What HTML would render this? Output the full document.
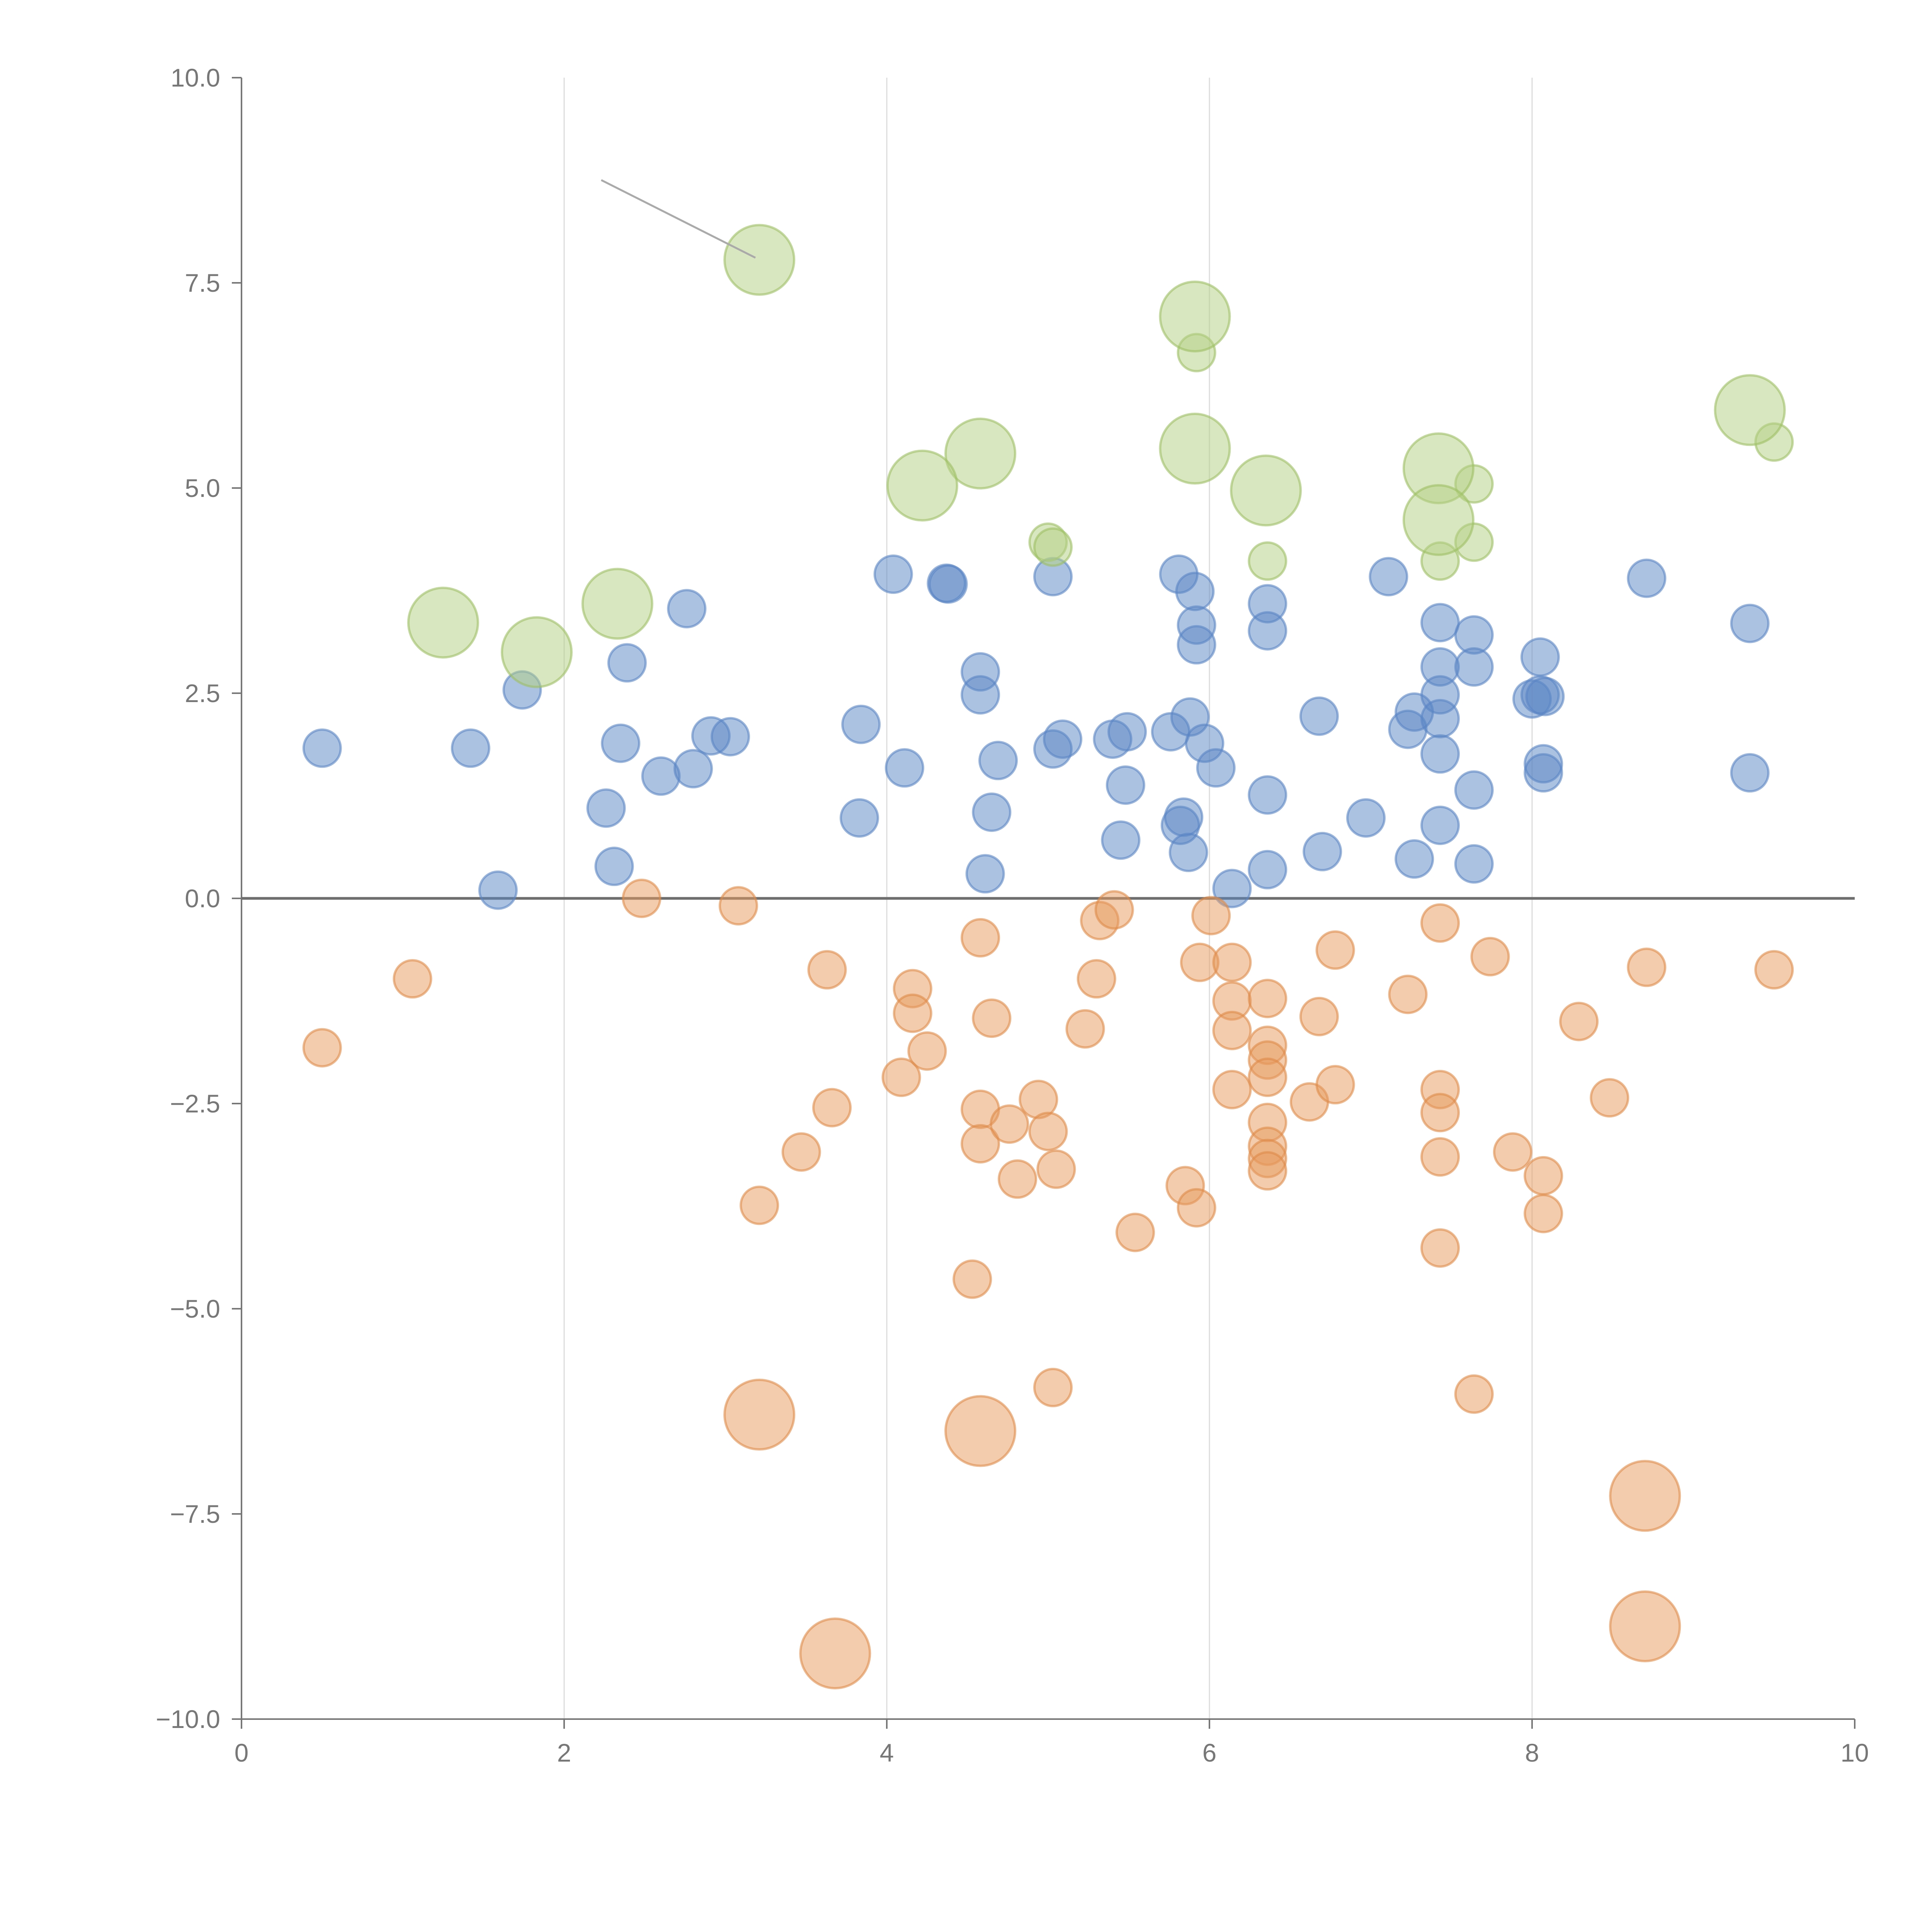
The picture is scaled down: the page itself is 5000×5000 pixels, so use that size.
<!DOCTYPE html>
<html><head><meta charset="utf-8"><style>
html,body{margin:0;padding:0;background:#fff;}
svg{display:block;font-family:"Liberation Sans",Arial,sans-serif;}
</style></head><body>
<svg id="chart" width="5000" height="5000" viewBox="0 0 5000 5000" xmlns="http://www.w3.org/2000/svg">
<rect width="5000" height="5000" fill="#fff"/>
<g id="grid"></g>
<g id="axes"></g>
<g id="marks"></g>
</svg>
<script>
const blueX=[0.5,1.42,1.59,1.74,2.26,2.31,2.35,2.39,2.6,2.76,2.8,2.91,3.03,3.83,3.84,4.04,4.11,4.37,4.38,4.58,4.58,4.61,4.65,4.69,5.03,5.03,5.09,5.4,5.45,5.48,5.49,5.76,5.81,5.82,5.84,5.87,5.88,5.91,5.92,5.92,5.97,6.04,6.14,6.36,6.36,6.36,6.36,6.68,6.7,6.97,7.11,7.23,7.27,7.27,7.43,7.43,7.43,7.43,7.43,7.43,7.64,7.64,7.64,7.64,8.0,8.05,8.05,8.08,8.07,8.07,8.71,9.35,9.35];
const blueY=[1.83,1.83,0.1,2.54,1.1,0.39,1.89,2.87,1.49,3.53,1.58,1.98,1.97,0.98,2.12,3.95,1.59,3.84,3.83,2.76,2.48,0.3,1.05,1.68,3.92,1.82,1.94,1.94,0.71,1.38,2.03,2.03,3.95,0.89,0.99,0.56,2.21,3.74,3.33,3.09,1.89,1.59,0.12,3.59,3.26,1.26,0.35,2.22,0.57,0.98,3.92,2.06,2.27,0.48,3.36,2.82,2.48,2.19,1.76,0.89,3.21,2.82,1.32,0.42,2.43,2.94,2.48,2.46,1.64,1.53,3.9,3.35,1.53];
const orangeX=[0.5,1.06,2.48,3.08,3.21,3.47,3.63,3.66,4.09,4.16,4.16,4.25,4.53,4.58,4.58,4.58,4.65,4.76,4.81,4.94,5.0,5.05,5.03,5.23,5.3,5.32,5.41,5.54,5.85,5.92,5.94,6.01,6.14,6.14,6.14,6.14,6.36,6.36,6.36,6.36,6.36,6.36,6.36,6.36,6.62,6.68,6.78,6.78,7.23,7.43,7.43,7.43,7.43,7.43,7.64,7.74,7.88,8.07,8.07,8.29,8.48,8.71,9.5];
const orangeY=[-1.82,-0.98,0,-0.09,-3.74,-3.09,-0.87,-2.55,-2.18,-1.1,-1.4,-1.86,-4.64,-0.48,-2.57,-2.99,-1.46,-2.75,-3.42,-2.45,-2.84,-3.3,-5.96,-1.59,-0.98,-0.27,-0.14,-4.07,-3.5,-3.77,-0.78,-0.21,-0.78,-1.25,-1.61,-2.33,-1.22,-1.79,-1.97,-2.18,-2.73,-3.02,-3.17,-3.32,-2.48,-1.44,-2.27,-0.63,-1.17,-0.3,-2.33,-2.61,-3.15,-4.26,-6.04,-0.71,-3.09,-3.38,-3.84,-1.5,-2.43,-0.84,-0.87];
const orangeBigX=[3.21,3.68,4.58,8.7,8.7];
const orangeBigY=[-6.29,-9.2,-6.49,-7.28,-8.87];
const greenBigX=[3.21,5.91,5.91,4.58,4.22,6.35,7.42,7.42,9.35,1.25,1.83,2.33];
const greenBigY=[7.78,7.09,5.48,5.42,5.03,4.97,5.24,4.61,5.95,3.36,3.0,3.59];
const greenX=[5.92,5.0,5.03,6.36,7.64,7.64,7.43,9.5];
const greenY=[6.65,4.34,4.28,4.11,5.05,4.34,4.11,5.56];
const xTicks=[0,2,4,6,8,10];
const yTicks=[-10,-7.5,-5,-2.5,0,2.5,5,7.5,10];

const NS="http://www.w3.org/2000/svg";
const X0=625,X1=4800,YT=201,YB=4449;
const xs=v=>X0+(v-0)/10*(X1-X0);
const ys=v=>YB-(v+10)/20*(YB-YT);
function mk(tag,attrs,parent){const e=document.createElementNS(NS,tag);for(const k in attrs)e.setAttribute(k,attrs[k]);parent.appendChild(e);return e;}
const grid=document.getElementById('grid'),axes=document.getElementById('axes'),marks=document.getElementById('marks');

xTicks.forEach(t=>{
  if(t>0&&t<10){const l=mk('line',{x1:xs(t),x2:xs(t),y1:YT,y2:YB,stroke:'#dcdcdc','stroke-width':3},grid);
  
  }
  const tk=mk('line',{x1:xs(t),x2:xs(t),y1:YB,y2:YB+25,stroke:'#777','stroke-width':4},axes);
  
  
  const tx=mk('text',{x:xs(t),y:YB+110,'text-anchor':'middle','font-size':66,fill:'#777'},axes);
  tx.textContent=String(t);
  
  
});
yTicks.forEach(t=>{
  const tk=mk('line',{x1:X0-25,x2:X0,y1:ys(t),y2:ys(t),stroke:'#777','stroke-width':4},axes);
  
  
  const tx=mk('text',{x:X0-55,y:ys(t)+23,'text-anchor':'end','font-size':66,fill:'#777'},axes);
  tx.textContent=(t<0?'\u2212':'')+Math.abs(t).toFixed(1);
  
  
});
let a=mk('line',{x1:X0,x2:X0,y1:YT,y2:YB,stroke:'#777','stroke-width':4},axes);


a=mk('line',{x1:X0,x2:X1,y1:YB,y2:YB,stroke:'#777','stroke-width':4},axes);


a=mk('line',{x1:X0,x2:X1,y1:ys(0),y2:ys(0),stroke:'#6e6e6e','stroke-width':7},axes);



function series(xa,ya,r,fill,stroke,name){
  xa.forEach((v,i)=>{
    const c=mk('circle',{cx:xs(v),cy:ys(ya[i]),r:r,fill:fill,'fill-opacity':0.5,stroke:stroke,'stroke-opacity':0.6,'stroke-width':6},marks);
    
    
  });
}
series(blueX,blueY,48,'#5a86c4','#5a86c4','bubble-blue');
series(orangeX,orangeY,48,'#e5995c','#e08a48','bubble-orange');
series(orangeBigX,orangeBigY,90,'#e5995c','#e08a48','bubble-orange-large');
series(greenX,greenY,48,'#b3cf82','#9cc063','bubble-green');
series(greenBigX,greenBigY,90,'#b3cf82','#9cc063','bubble-green-large');

const ld=mk('line',{x1:1556,y1:466,x2:1955,y2:667,stroke:'#aaa','stroke-width':5},marks);


</script>
</body></html>
